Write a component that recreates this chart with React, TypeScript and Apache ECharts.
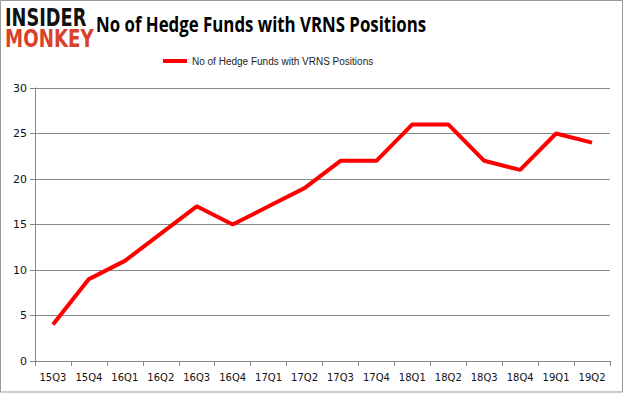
import React, { useEffect, useRef } from "react";
import * as echarts from "echarts";

const categories = ["15Q3","15Q4","16Q1","16Q2","16Q3","16Q4","17Q1","17Q2","17Q3","17Q4","18Q1","18Q2","18Q3","18Q4","19Q1","19Q2"];
const values = [4, 9, 11, 14, 17, 15, 17, 19, 22, 22, 26, 26, 22, 21, 25, 24];
const seriesName = "No of Hedge Funds with VRNS Positions";
const titleText = "No of Hedge Funds with VRNS Positions";

export default function App() {
  const ref = useRef<HTMLDivElement>(null);
  useEffect(() => {
    const chart = echarts.init(ref.current!, null, { renderer: "svg" });
    chart.setOption({
      animation: false,
      backgroundColor: "#fff",
      legend: {
        data: [seriesName],
        top: 51,
        left: 158,
        itemWidth: 24,
        itemHeight: 4,
        itemGap: 3,
        textStyle: { fontFamily: "Liberation Sans", fontSize: 10, color: "#222" },
        icon: "rect",
      },
      grid: { left: 35, right: 15, top: 88, bottom: 34, containLabel: false },
      xAxis: {
        type: "category",
        data: categories,
        boundaryGap: true,
        axisLine: { lineStyle: { color: "#888" } },
        axisTick: { show: true, alignWithLabel: false, length: 5, lineStyle: { color: "#888" } },
        axisLabel: { fontFamily: "DejaVu Sans", fontSize: 10, color: "#111", margin: 11, interval: 0 },
      },
      yAxis: {
        type: "value",
        min: 0,
        max: 30,
        interval: 5,
        axisLine: { show: true, lineStyle: { color: "#888" } },
        axisTick: { show: true, length: 5, lineStyle: { color: "#888" } },
        axisLabel: { fontFamily: "DejaVu Sans", fontSize: 11, color: "#111", margin: 8 },
        splitLine: { lineStyle: { color: "#888" } },
      },
      series: [
        {
          name: seriesName,
          type: "line",
          data: values,
          symbol: "none",
          lineStyle: { color: "#ff0000", width: 4 },
          itemStyle: { color: "#ff0000" },
        },
      ],
      graphic: [
        {
          type: "rect",
          shape: { x: 0.5, y: 0.5, width: 622, height: 391.5 },
          style: { fill: "none", stroke: "#999", lineWidth: 1 },
          silent: true,
        },
        {
          type: "text",
          x: 5,
          y: 5,
          scaleX: 0.74,
          style: { text: "INSIDER", fontFamily: "DejaVu Sans", fontWeight: "bold", fontSize: 24, fill: "#111" },
        },
        {
          type: "text",
          x: 5,
          y: 27,
          scaleX: 0.76,
          style: { text: "MONKEY", fontFamily: "DejaVu Sans", fontWeight: "bold", fontSize: 24, fill: "#d9412b" },
        },
        {
          type: "text",
          x: 96,
          y: 13,
          scaleX: 0.765,
          style: { text: titleText, fontFamily: "Open Sans", fontWeight: "bold", fontSize: 22, fill: "#000" },
        },
      ],
    });
    return () => chart.dispose();
  }, []);
  return (
    <div style={{ position: "absolute", left: 0, top: 0 }}>
      <div ref={ref} style={{ width: 625, height: 395 }} />
    </div>
  );
}
